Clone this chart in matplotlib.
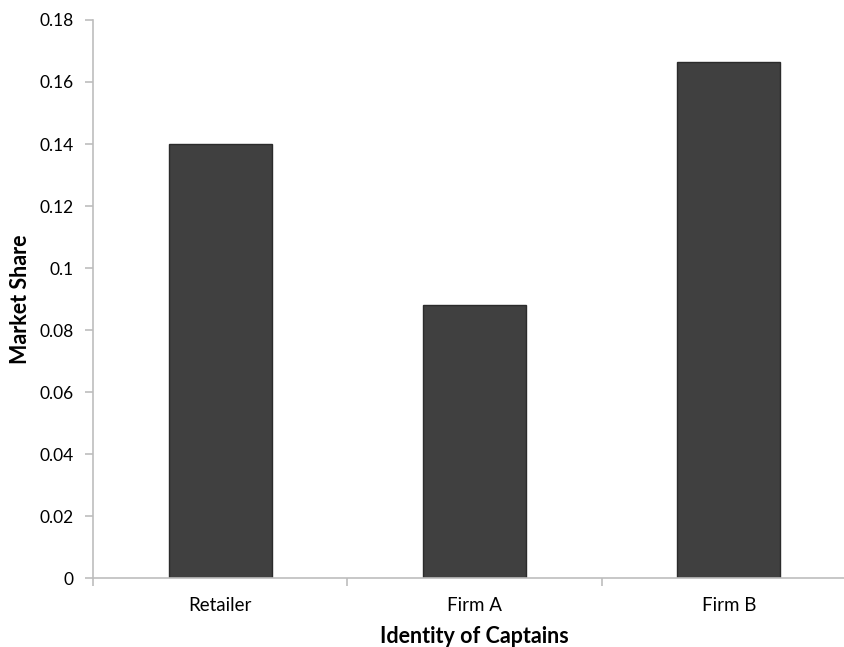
import matplotlib
matplotlib.use("Agg")
import matplotlib.pyplot as plt

categories = ["Retailer", "Firm A", "Firm B"]
market_share = [0.140, 0.088, 0.1665]

plt.rcParams['font.family'] = ['Lato', 'DejaVu Sans']

fig = plt.figure(figsize=(8.45, 6.47), dpi=100)
# the original is cropped on the right, so the axes run past the figure edge
ax = fig.add_axes([0.110, 0.1066, 0.903, 0.8625])

x = range(len(categories))
ax.bar(x, market_share, width=0.405, color="#404040", edgecolor="#2b2b2b", linewidth=1.0)

ax.set_xlim(-0.5, len(categories) - 0.5)
ax.set_ylim(0, 0.18)
ax.set_yticks([i * 0.02 for i in range(10)])
ax.set_yticklabels(["0", "0.02", "0.04", "0.06", "0.08", "0.1", "0.12", "0.14", "0.16", "0.18"])
ax.set_xticks(list(x))
ax.set_xticklabels(categories)
ax.set_xticks([i - 0.5 for i in range(len(categories) + 1)], minor=True)

for s in ["top", "right"]:
    ax.spines[s].set_visible(False)
for s in ["left", "bottom"]:
    ax.spines[s].set_color("#bdbdbd")
    ax.spines[s].set_linewidth(1.2)

ax.tick_params(axis="y", color="#bdbdbd", length=6, width=1.2, labelsize=12.5, pad=8)
ax.tick_params(axis="x", which="major", length=0, labelsize=13.5, pad=14)
ax.tick_params(axis="x", which="minor", color="#bdbdbd", length=6, width=1.2)

ax.set_xlabel("Identity of Captains", fontsize=15.5, fontweight="bold", labelpad=8)
ax.set_ylabel("Market Share", fontsize=15.5, fontweight="bold", labelpad=6)

fig.savefig("out.png", dpi=100)
